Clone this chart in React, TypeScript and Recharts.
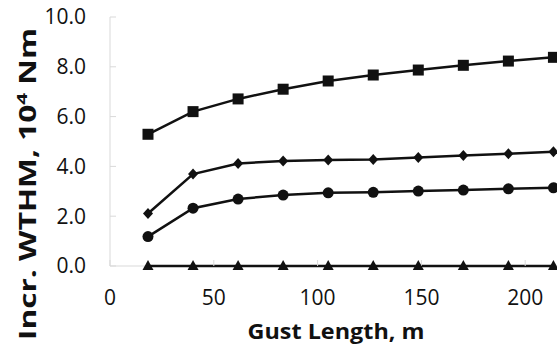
import { Line, LineChart, ReferenceLine, XAxis, YAxis } from "recharts";

const gustLength = [18.3, 40, 61.7, 83.4, 105.1, 126.8, 148.5, 170.2, 191.9, 213.6];
const squareSeries = [5.29, 6.2, 6.71, 7.1, 7.43, 7.67, 7.87, 8.06, 8.23, 8.38];
const diamondSeries = [2.11, 3.69, 4.12, 4.22, 4.26, 4.28, 4.36, 4.44, 4.51, 4.59];
const circleSeries = [1.18, 2.32, 2.69, 2.85, 2.94, 2.96, 3.01, 3.05, 3.1, 3.14];
const triangleSeries = [0, 0, 0, 0, 0, 0, 0, 0, 0, 0];
const xTicks = [0, 50, 100, 150, 200];
const yTicks = [0, 2, 4, 6, 8, 10];

const data = gustLength.map((g, i) => ({
  g,
  sq: squareSeries[i],
  di: diamondSeries[i],
  ci: circleSeries[i],
  tr: triangleSeries[i],
}));

const FONT = "'Open Sans', sans-serif";
const INK = "#111";
const AXIS_GRAY = "#d9d9d9";

type Kind = "square" | "diamond" | "circle" | "triangle";

// marker shapes drawn at the point the library hands us
function marker(kind: Kind) {
  return (p: any) => {
    const { cx, cy, index } = p;
    if (cx == null || cy == null) return <g key={index} />;
    if (kind === "square") return <rect key={index} x={cx - 5.5} y={cy - 5.5} width={11} height={11} fill={INK} />;
    if (kind === "circle") return <circle key={index} cx={cx} cy={cy} r={5.5} fill={INK} />;
    if (kind === "diamond")
      return <path key={index} d={`M${cx},${cy - 5.5}L${cx + 5},${cy}L${cx},${cy + 5.5}L${cx - 5},${cy}Z`} fill={INK} />;
    return <path key={index} d={`M${cx},${cy - 6}L${cx + 5.5},${cy + 4}L${cx - 5.5},${cy + 4}Z`} fill={INK} />;
  };
}

const YTitle = () => {
  const x = 36;
  const y = 184;
  return (
    <text x={x} y={y} transform={`rotate(-90 ${x} ${y})`} textAnchor="middle" textLength={312} lengthAdjust="spacingAndGlyphs" fontFamily={FONT} fontWeight={700} fontSize={23} fill={INK}>
      Incr. WTHM, 10<tspan dy={-9} fontSize={15}>4</tspan>
      <tspan dy={9}> Nm</tspan>
    </text>
  );
};

const XTitle = () => (
  <text x={336} y={339} textAnchor="middle" textLength={177} lengthAdjust="spacingAndGlyphs" fontFamily={FONT} fontWeight={700} fontSize={22} fill={INK}>
    Gust Length, m
  </text>
);

export default function App() {
  return (
    <div style={{ position: "fixed", left: 0, top: 0, width: 557, height: 348, overflow: "hidden", background: "#fff" }}>
      <LineChart width={640} height={348} data={data} margin={{ top: 17, right: 11, bottom: 0, left: 0 }}>
        <XAxis
          dataKey="g"
          type="number"
          domain={[0, 250]}
          ticks={xTicks}
          height={82}
          axisLine={false}
          tickLine={{ stroke: AXIS_GRAY }}
          tickSize={-6}
          tickMargin={30}
          tick={{ fill: INK, fontSize: 21, fontFamily: FONT }}
          label={<XTitle />}
        />
        <YAxis
          type="number"
          domain={[0, 10]}
          ticks={yTicks}
          width={110}
          stroke={AXIS_GRAY}
          tickSize={-6}
          tickMargin={30}
          tickFormatter={(v: number) => v.toFixed(1)}
          tick={{ fill: INK, fontSize: 21, fontFamily: FONT }}
          label={<YTitle />}
        />
        {/* faint x axis line left of the first point; the zero series covers the rest */}
        <ReferenceLine segment={[{ x: 0, y: 0 }, { x: gustLength[0], y: 0 }]} stroke={AXIS_GRAY} />
        <Line dataKey="sq" stroke={INK} strokeWidth={2.5} dot={marker("square")} isAnimationActive={false} />
        <Line dataKey="di" stroke={INK} strokeWidth={2.5} dot={marker("diamond")} isAnimationActive={false} />
        <Line dataKey="ci" stroke={INK} strokeWidth={2.5} dot={marker("circle")} isAnimationActive={false} />
        <Line dataKey="tr" stroke={INK} strokeWidth={2.5} dot={marker("triangle")} isAnimationActive={false} />
      </LineChart>
    </div>
  );
}
